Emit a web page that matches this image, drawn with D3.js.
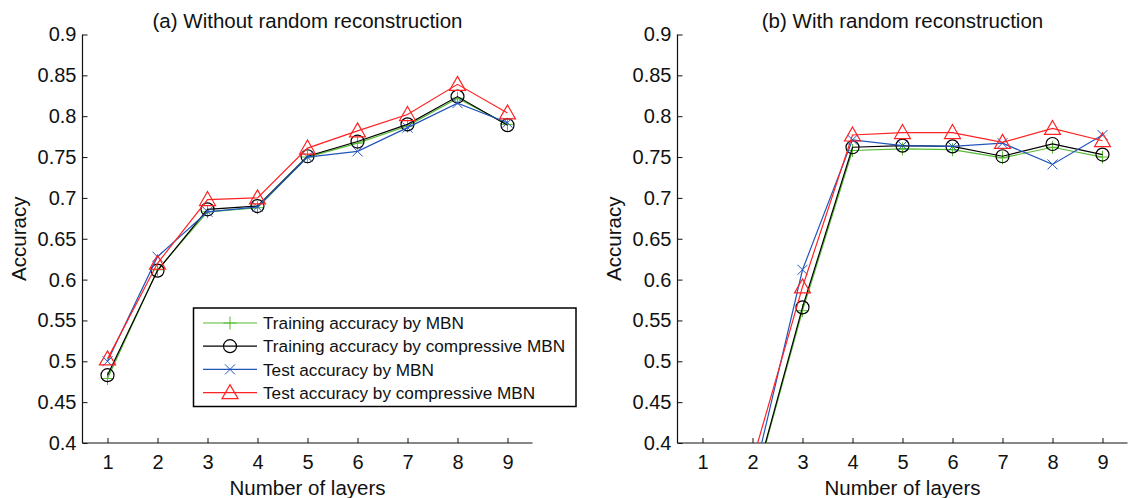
<!DOCTYPE html>
<html>
<head>
<meta charset="utf-8">
<script src="https://cdn.jsdelivr.net/npm/d3@7"></script>
<style>
  body { margin: 0; background: #fff; }
  svg { display: block; font-family: "Liberation Sans", Arial, sans-serif; }
  .tick text { font-size: 20px; fill: #111; }
</style>
</head>
<body>
<svg id="chart"></svg>
<script>
const layers = [1, 2, 3, 4, 5, 6, 7, 8, 9];
const yTicks = [0.4, 0.45, 0.5, 0.55, 0.6, 0.65, 0.7, 0.75, 0.8, 0.85, 0.9];
const seriesNames = [
  "Training accuracy by MBN",
  "Training accuracy by compressive MBN",
  "Test accuracy by MBN",
  "Test accuracy by compressive MBN"
];
const panelTitles = ["(a) Without random reconstruction", "(b) With random reconstruction"];

// (a) without random reconstruction
const trainMbnA = [0.479, 0.612, 0.683, 0.688, 0.750, 0.767, 0.788, 0.822, 0.790];
const trainCmpA = [0.483, 0.611, 0.686, 0.690, 0.751, 0.769, 0.790, 0.824, 0.789];
const testMbnA  = [0.500, 0.628, 0.683, 0.689, 0.750, 0.757, 0.786, 0.816, 0.792];
const testCmpA  = [0.503, 0.620, 0.698, 0.700, 0.761, 0.782, 0.802, 0.839, 0.804];

// (b) with random reconstruction (layer 1 off the chart)
const trainMbnB = [null, 0.340, 0.562, 0.758, 0.760, 0.759, 0.749, 0.762, 0.750];
const trainCmpB = [null, 0.342, 0.566, 0.762, 0.764, 0.763, 0.751, 0.766, 0.753];
const testMbnB  = [null, 0.352, 0.612, 0.771, 0.764, 0.763, 0.767, 0.741, 0.777];
const testCmpB  = [null, 0.378, 0.591, 0.777, 0.780, 0.780, 0.768, 0.785, 0.770];

const colors = ["#55bb33", "#000000", "#2255bb", "#ff2222"];
const markers = ["plus", "circle", "cross", "triangle"];

const width = 1128, height = 498;
const svg = d3.select("#chart").attr("width", width).attr("height", height);

const panels = [
  { left: 82.5, right: 532.5, title: panelTitles[0], data: [trainMbnA, trainCmpA, testMbnA, testCmpA], legend: true },
  { left: 677.5, right: 1127.5, title: panelTitles[1], data: [trainMbnB, trainCmpB, testMbnB, testCmpB], legend: false }
];
const plotTop = 34.5, plotBottom = 443;

function drawMarker(g, type, color) {
  if (type === "plus") {
    g.append("path").attr("d", "M-6.5,0H6.5M0,-6.5V6.5").attr("stroke", color).attr("fill", "none");
  } else if (type === "circle") {
    g.append("circle").attr("r", 6.5).attr("stroke", color).attr("fill", "none").attr("stroke-width", 1.2);
  } else if (type === "cross") {
    g.append("path").attr("d", "M-5,-5L5,5M-5,5L5,-5").attr("stroke", color).attr("fill", "none");
  } else {
    g.append("path").attr("d", "M0,-8L8,6H-8Z").attr("stroke", color).attr("fill", "none").attr("stroke-width", 1.2);
  }
}

panels.forEach((p, pi) => {
  const x = d3.scaleLinear().domain([0.5, 9.5]).range([p.left, p.right]);
  const y = d3.scaleLinear().domain([0.4, 0.9]).range([plotBottom, plotTop]);
  const g = svg.append("g");

  const clipId = "clip" + pi;
  svg.append("clipPath").attr("id", clipId)
    .append("rect").attr("x", p.left).attr("y", plotTop - 10)
    .attr("width", p.right - p.left + 10).attr("height", plotBottom - plotTop + 10);

  // axes
  const xAxis = g.append("g").attr("transform", `translate(0,${plotBottom})`)
    .call(d3.axisBottom(x).tickValues(layers).tickSize(-5).tickPadding(12).tickFormat(d3.format("d")));
  const yAxis = g.append("g").attr("transform", `translate(${p.left},0)`)
    .call(d3.axisLeft(y).tickValues(yTicks).tickSize(-5).tickPadding(6).tickFormat(d => String(+d.toFixed(2))));
  [xAxis, yAxis].forEach(a => {
    a.select(".domain").attr("stroke", "#111").attr("stroke-width", 1.2);
    a.selectAll(".tick line").attr("stroke", "#111");
  });
  xAxis.select(".domain").attr("d", `M${p.left},0H${p.right}`);
  yAxis.select(".domain").attr("d", `M0,${plotBottom}V${plotTop}`);
  xAxis.selectAll(".tick text").attr("dy", "0.71em");

  g.append("text").attr("x", (p.left + p.right) / 2).attr("y", 28)
    .attr("text-anchor", "middle").attr("font-size", 20.5).attr("fill", "#111").text(p.title);
  g.append("text").attr("x", (p.left + p.right) / 2).attr("y", 494.5)
    .attr("text-anchor", "middle").attr("font-size", 20.5).attr("fill", "#111").text("Number of layers");
  g.append("text").attr("transform", `translate(${p.left - 57},${(plotTop + plotBottom) / 2}) rotate(-90)`)
    .attr("text-anchor", "middle").attr("font-size", 20.5).attr("fill", "#111").text("Accuracy");

  const plot = g.append("g").attr("clip-path", `url(#${clipId})`);
  p.data.forEach((vals, si) => {
    const line = d3.line().defined(d => d != null).x((d, i) => x(layers[i])).y(d => y(d));
    plot.append("path").datum(vals).attr("d", line)
      .attr("fill", "none").attr("stroke", colors[si]).attr("stroke-width", 1.2);
    vals.forEach((v, i) => {
      if (v == null || v < 0.4) return;
      const m = plot.append("g").attr("transform", `translate(${x(layers[i])},${y(v)})`);
      drawMarker(m, markers[si], colors[si]);
    });
  });

  if (p.legend) {
    const lg = g.append("g");
    lg.append("rect").attr("x", 193.5).attr("y", 308).attr("width", 382.5).attr("height", 98.5)
      .attr("fill", "#fff").attr("stroke", "#000").attr("stroke-width", 1.5);
    seriesNames.forEach((name, si) => {
      const yy = 323 + si * 23.2;
      lg.append("line").attr("x1", 203).attr("x2", 257).attr("y1", yy).attr("y2", yy)
        .attr("stroke", colors[si]).attr("stroke-width", 1.2);
      drawMarker(lg.append("g").attr("transform", `translate(230,${yy})`), markers[si], colors[si]);
      lg.append("text").attr("x", 263).attr("y", yy + 6.2).attr("font-size", 17.2).attr("fill", "#111").text(name);
    });
  }
});
</script>
</body>
</html>
